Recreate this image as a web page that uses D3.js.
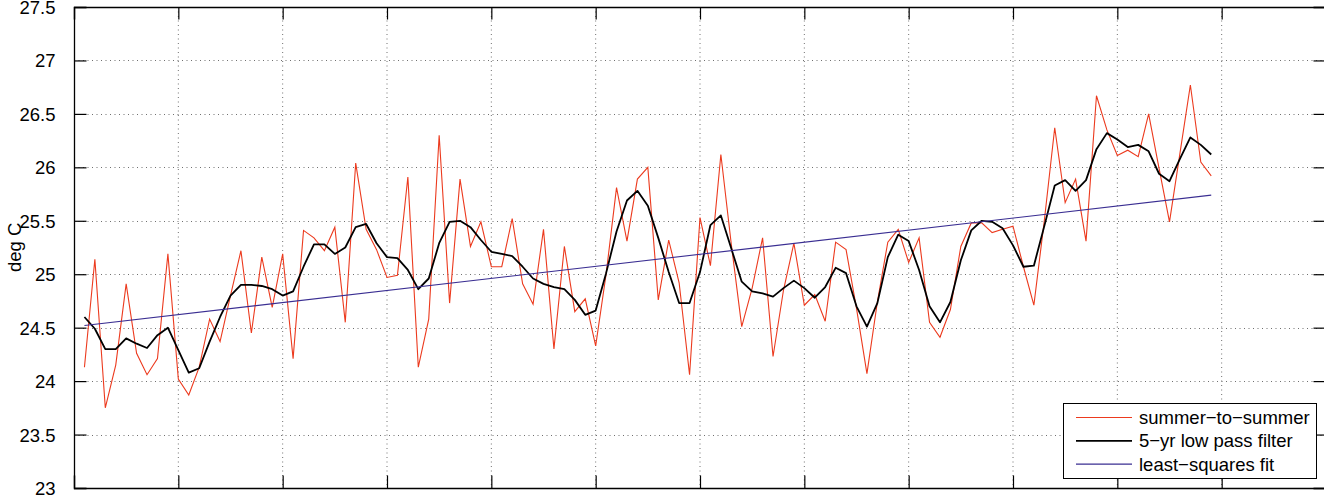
<!DOCTYPE html>
<html><head><meta charset="utf-8">
<script src="https://cdn.jsdelivr.net/npm/d3@7"></script>
<style>
html,body{margin:0;padding:0;background:#fff;}
svg text{font-family:"Liberation Sans",Arial,Helvetica,sans-serif;fill:#000;}
</style></head>
<body>
<svg id="chart" width="1324" height="496"></svg>
<script>
// ---- data ----
const firstYear = 1891;
const xDomain = [1890, 2010];
const xTicks = [1890,1900,1910,1920,1930,1940,1950,1960,1970,1980,1990,2000,2010];
const yTicks = [23,23.5,24,24.5,25,25.5,26,26.5,27,27.5];
const yTickLabels = ["23","23.5","24","24.5","25","25.5","26","26.5","27","27.5"];
const summer = [24.13,25.14,23.75,24.15,24.91,24.26,24.06,24.21,25.19,24.02,
23.87,24.13,24.58,24.37,24.80,25.22,24.45,25.16,24.69,25.19,
24.21,25.41,25.34,25.22,25.44,24.55,26.04,25.42,25.23,24.97,
24.99,25.91,24.13,24.58,26.30,24.73,25.89,25.26,25.49,25.07,
25.07,25.52,24.91,24.72,25.42,24.30,25.26,24.65,24.77,24.33,
25.00,25.81,25.31,25.89,26.00,24.76,25.32,24.92,24.06,25.53,
25.08,26.12,25.28,24.51,24.87,25.34,24.23,24.85,25.29,24.71,
24.81,24.56,25.30,25.23,24.68,24.07,24.74,25.30,25.42,25.11,
25.34,24.55,24.41,24.67,25.26,25.48,25.48,25.39,25.42,25.45,
25.07,24.71,25.50,26.37,25.67,25.89,25.31,26.67,26.35,26.11,
26.16,26.10,26.50,25.99,25.49,26.13,26.77,26.05,25.92];
const lowpass = [24.60,24.49,24.30,24.30,24.40,24.35,24.31,24.43,24.50,24.29,
24.08,24.12,24.37,24.60,24.80,24.90,24.90,24.89,24.86,24.80,
24.84,25.07,25.28,25.28,25.19,25.25,25.44,25.47,25.29,25.16,
25.15,25.04,24.86,24.96,25.29,25.49,25.50,25.44,25.32,25.21,
25.19,25.17,25.07,24.96,24.91,24.88,24.86,24.76,24.62,24.66,
25.01,25.40,25.69,25.78,25.64,25.34,25.02,24.73,24.73,25.02,
25.46,25.55,25.24,24.93,24.84,24.82,24.79,24.87,24.94,24.87,
24.78,24.88,25.06,25.01,24.70,24.51,24.73,25.16,25.37,25.31,
25.04,24.70,24.55,24.74,25.13,25.41,25.50,25.49,25.43,25.27,
25.07,25.08,25.45,25.83,25.88,25.78,25.88,26.17,26.32,26.26,
26.19,26.21,26.15,25.94,25.87,26.08,26.28,26.21,26.12];
const fitValues = [24.52, 25.74]; // least-squares fit at first and last year
const legendLabels = ["summer\u2212to\u2212summer","5\u2212yr low pass filter","least\u2212squares fit"];
const yLabel = "deg C";

// ---- layout ----
const L = 74, R = 1326, T = 7, B = 488;
const FS = 18.5;
const colors = {red:"#ec3a1e", black:"#000000", blue:"#3a2e92"};
const svg = d3.select("#chart");
const x = d3.scaleLinear().domain(xDomain).range([L, R]);
const y = d3.scaleLinear().domain([23, 27.5]).range([B, T]);
const years = summer.map((d,i)=>firstYear+i);
const lastYear = years[years.length-1];

// grid
const grid = svg.append("g");
grid.selectAll("line.gx").data(xTicks.slice(1,-1)).join("line")
  .attr("x1",d=>x(d)).attr("x2",d=>x(d)).attr("y1",T).attr("y2",B)
  .attr("stroke","#707070").attr("stroke-width",1).attr("stroke-dasharray","1,3.5");
grid.selectAll("line.gy").data(yTicks.slice(1,-1)).join("line")
  .attr("x1",L).attr("x2",R).attr("y1",d=>Math.round(y(d))+0.5).attr("y2",d=>Math.round(y(d))+0.5)
  .attr("stroke","#707070").attr("stroke-width",1).attr("stroke-dasharray","1,3.5");

// axes (inward ticks)
const tk = 12.5;
svg.append("g").attr("transform",`translate(${L},0)`)
  .call(d3.axisLeft(y).tickValues(yTicks).tickSize(-tk).tickPadding(6+tk).tickFormat((d,i)=>yTickLabels[i]))
  .call(g=>{g.selectAll("text").attr("font-size",FS).attr("dy","0.35em");});
svg.append("g").attr("transform",`translate(${R},0)`)
  .call(d3.axisRight(y).tickValues(yTicks).tickSize(-tk).tickFormat(""));
svg.append("g").attr("transform",`translate(0,${B})`)
  .call(d3.axisBottom(x).tickValues(xTicks).tickSize(-tk).tickFormat(""));
svg.append("g").attr("transform",`translate(0,${T})`)
  .call(d3.axisTop(x).tickValues(xTicks).tickSize(-tk).tickFormat(""));
svg.selectAll(".domain").attr("stroke","#000").attr("stroke-width",1.3);
svg.selectAll(".tick line").attr("stroke","#000").attr("stroke-width",1.2);

// y label
svg.append("text").attr("font-size",FS).attr("text-anchor","start")
  .attr("transform","translate(21,272) rotate(-90)").text(yLabel);

// lines
const line = d3.line().x(d=>x(d[0])).y(d=>y(d[1]));
svg.append("path").datum(years.map((yr,i)=>[yr,summer[i]]))
  .attr("d",line).attr("fill","none").attr("stroke",colors.red).attr("stroke-width",1.1);
svg.append("path").datum(years.map((yr,i)=>[yr,lowpass[i]]))
  .attr("d",line).attr("fill","none").attr("stroke",colors.black).attr("stroke-width",1.8).attr("stroke-linejoin","round");
svg.append("path").datum([[firstYear,fitValues[0]],[lastYear,fitValues[1]]])
  .attr("d",line).attr("fill","none").attr("stroke",colors.blue).attr("stroke-width",1.1);

// legend
const lg = svg.append("g");
lg.append("rect").attr("x",1063.5).attr("y",403.5).attr("width",253).attr("height",75)
  .attr("fill","#fff").attr("stroke","#000").attr("stroke-width",1);
const lcols = [colors.red, colors.black, colors.blue];
const lw = [1.1,1.8,1.1];
legendLabels.forEach((t,i)=>{
  const yy = 417.5 + i*23.3;
  lg.append("line").attr("x1",1076).attr("x2",1132).attr("y1",yy).attr("y2",yy)
    .attr("stroke",lcols[i]).attr("stroke-width",lw[i]);
  lg.append("text").attr("x",1139).attr("y",yy).attr("dy","0.35em").attr("font-size",FS).text(t);
});
</script>
</body></html>
